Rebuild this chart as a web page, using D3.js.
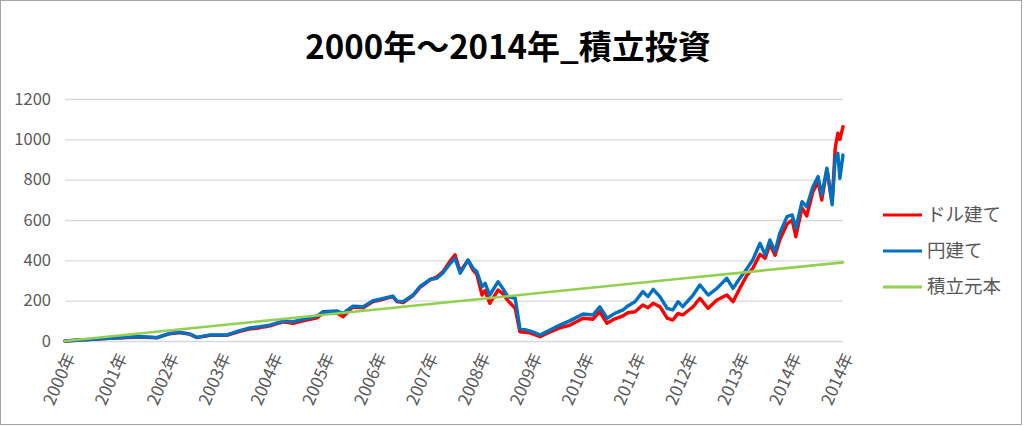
<!DOCTYPE html>
<html><head><meta charset="utf-8">
<script src="https://cdn.jsdelivr.net/npm/d3@7"></script>
<style>
html,body{margin:0;padding:0;background:#fff;}
svg{display:block;}
</style>
</head><body>
<svg id="chart" width="1024" height="426"></svg>
<script>
// ---- data ----
const years = [2000.00,2000.29,2000.54,2000.87,2001.20,2001.45,2001.77,2002.02,2002.22,2002.41,
2002.54,2002.80,2003.12,2003.37,2003.57,2003.76,2003.95,2004.20,2004.40,2004.59,
2004.86,2004.97,2005.24,2005.36,2005.55,2005.75,2005.94,2006.07,2006.32,2006.40,
2006.52,2006.71,2006.84,2007.04,2007.17,2007.29,2007.42,2007.52,2007.62,2007.77,
2007.87,2007.94,2008.04,2008.10,2008.19,2008.35,2008.44,2008.54,2008.68,2008.77,
2008.96,2009.16,2009.35,2009.54,2009.74,2009.99,2010.18,2010.31,2010.45,2010.60,
2010.76,2010.85,2010.99,2011.14,2011.24,2011.34,2011.47,2011.61,2011.72,2011.82,
2011.91,2012.11,2012.24,2012.40,2012.57,2012.76,2012.88,2013.01,2013.15,2013.26,
2013.40,2013.50,2013.59,2013.69,2013.78,2013.92,2014.02,2014.09,2014.21,2014.30,
2014.42,2014.52,2014.59,2014.69,2014.79,2014.85,2014.90,2014.94,2015.00];

const yenValues = [0,5,8,14,18,22,17,38,43,35,
18,30,30,51,65,71,79,99,96,107,
124,145,149,137,173,170,200,207,223,198,
195,228,269,306,311,339,382,410,336,402,
360,344,269,286,228,294,261,220,212,63,
50,30,55,79,101,134,129,170,113,137,
154,174,195,245,220,256,220,162,154,195,
170,228,278,228,261,311,261,311,360,402,
485,427,501,443,534,617,625,559,691,666,
765,815,724,857,675,906,931,807,922];

const dollarValues = [0,5,8,13,17,20,16,36,42,33,
17,28,28,48,60,66,75,95,88,100,
115,138,140,120,168,165,196,203,220,195,
190,225,265,303,318,345,395,427,345,400,
350,330,228,250,187,253,235,200,162,46,
40,21,45,65,79,113,108,145,88,110,
125,140,145,179,165,187,170,113,104,137,
129,170,212,162,203,228,195,261,327,360,
430,410,480,425,500,580,600,517,660,620,
740,790,699,850,690,956,1030,1000,1063];

const principalYears = [2000,2001,2002,2003,2004,2005,2006,2007,2008,2009,2010,2011,2012,2013,2014,2015];
const principalValues = [0,26,52,78,104,130,156,182,208,234,260,286,312,338,364,390];

const tickYears = [2000,2001,2002,2003,2004,2005,2006,2007,2008,2009,2010,2011,2012,2013,2014,2015];
const tickLabels = ["2000年","2001年","2002年","2003年","2004年","2005年","2006年","2007年","2008年","2009年","2010年","2011年","2012年","2013年","2014年","2014年"];
const yTicks = [0,200,400,600,800,1000,1200];

const seriesNames = ["ドル建て","円建て","積立元本"];
const seriesColors = ["#FF0000","#0070C0","#92D050"];
const chartTitle = "2000年～2014年_積立投資";

// ---- drawing ----
const svg = d3.select("#chart");
const FONT = "'Noto Sans CJK JP','Noto Sans',sans-serif";
const x = d3.scaleLinear().domain([2000,2015]).range([65,843]);
const y = d3.scaleLinear().domain([0,1200]).range([341,99]);

svg.append("rect").attr("x",0.5).attr("y",0.5).attr("width",1021).attr("height",424)
  .attr("fill","#fff").attr("stroke","#a6a6a6");

svg.append("text").attr("x",508).attr("y",59).attr("text-anchor","middle")
  .attr("font-family",FONT).attr("font-weight","bold").attr("font-size",33)
  .attr("fill","#000").text(chartTitle);

// gridlines
const yAxis = d3.axisLeft(y).tickValues(yTicks).tickSize(-(843-65)).tickFormat(d=>d);
const gy = svg.append("g").attr("transform","translate(65,0)").call(yAxis);
gy.select(".domain").remove();
gy.selectAll(".tick line").attr("stroke","#d9d9d9").attr("stroke-width",1.3);
gy.selectAll(".tick text").attr("x",-14).attr("font-family",FONT).attr("font-size",16.5).attr("fill","#595959");

// x axis labels
const xAxis = d3.axisBottom(x).tickValues(tickYears).tickSize(0).tickFormat((d,i)=>tickLabels[i]);
const gx = svg.append("g").attr("transform","translate(0,341)").call(xAxis);
gx.select(".domain").remove();
gx.selectAll(".tick text")
  .attr("font-family",FONT).attr("font-size",17).attr("fill","#595959")
  .attr("text-anchor","end").attr("dy","0.35em").attr("y",0).attr("x",0)
  .attr("transform","translate(5,13) rotate(-66)");

const line = d3.line().x(d=>x(d[0])).y(d=>y(d[1]));
const dollarData = years.map((t,i)=>[t,dollarValues[i]]);
const yenData = years.map((t,i)=>[t,yenValues[i]]);
const principalData = principalYears.map((t,i)=>[t,principalValues[i]]);

[[dollarData,0,3.4],[yenData,1,3.4],[principalData,2,2.6]].forEach(([data,i,w])=>{
  svg.append("path").datum(data).attr("d",line).attr("fill","none")
    .attr("stroke",seriesColors[i]).attr("stroke-width",w)
    .attr("stroke-linejoin","round").attr("stroke-linecap","round");
});

// legend
const legY = [215,251,287];
seriesNames.forEach((n,i)=>{
  svg.append("line").attr("x1",883).attr("x2",922).attr("y1",legY[i]).attr("y2",legY[i])
    .attr("stroke",seriesColors[i]).attr("stroke-width",3);
  svg.append("text").attr("x",927).attr("y",legY[i]).attr("dy","0.35em")
    .attr("font-family",FONT).attr("font-size",18.5).attr("fill","#595959").text(n);
});
</script>
</body></html>
